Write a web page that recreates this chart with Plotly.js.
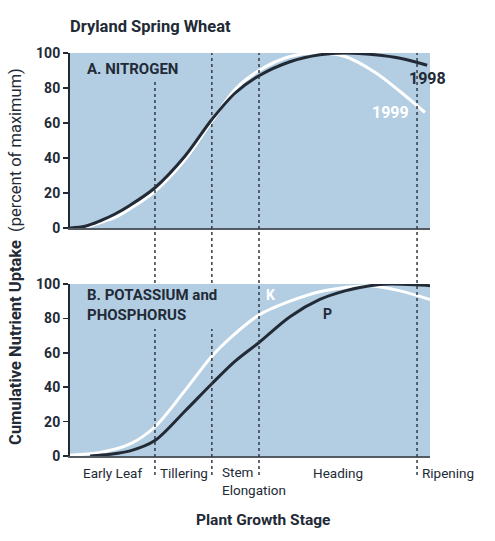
<!DOCTYPE html>
<html>
<head>
<meta charset="utf-8">
<script src="https://cdn.plot.ly/plotly-3.0.1.min.js"></script>
<style>
  html, body { margin: 0; padding: 0; background: #fff; }
  #chart { width: 495px; height: 541px; }
</style>
</head>
<body>
<div id="chart"></div>
<script>
// growth-stage position, 0-100 across the season
const n98X = [0, 4.2, 8.3, 12.5, 16.7, 23.6, 31.9, 39.4, 45.8, 52.5, 61.1, 69.4, 76.4, 84.7, 91.7, 99.2];
const n98Y = [0, 1, 4, 8, 13, 23, 41, 62, 77, 87, 95, 99, 100, 99, 97, 93];
const n99X = [0, 4.2, 8.3, 12.5, 16.7, 23.6, 31.9, 39.4, 45.8, 52.5, 61.1, 69.4, 76.4, 84.7, 91.7, 98.6];
const n99Y = [0, 0.5, 3, 6, 11, 21, 39, 61, 79, 90, 98, 100, 98, 89, 78, 66];

const kX = [0, 8.3, 16.7, 23.6, 31.9, 39.4, 45.8, 52.5, 61.1, 69.4, 76.4, 83.3, 91.7, 100];
const kY = [0.5, 2, 7, 17, 38, 58, 71, 82, 90, 95.5, 98, 99, 96, 91];
const pX = [5.6, 11.1, 16.7, 23.6, 31.9, 39.4, 45.8, 52.5, 61.1, 69.4, 76.4, 83.3, 88.9, 96.4, 100];
const pY = [0, 1, 3, 9, 26, 42, 55, 66, 81, 91, 96, 99, 100, 99.5, 99];

const stageLines = [23.6, 39.4, 52.5, 96.4];
const stageLabels = ["Early Leaf", "Tillering", "Stem<br>Elongation", "Heading", "Ripening"];
// label centres in paper units (Stem/Elongation is its left edge)
const stageLabelX = [0.119, 0.317, 0.417, 0.744, 1.05];

const ink = "#222a36";
const bg = "#b3cee3";
const font = "Roboto, 'Liberation Sans', sans-serif";

const line = (x, y, color, xa, ya) => ({
  type: "scatter", mode: "lines", x: x, y: y, xaxis: xa, yaxis: ya,
  line: { color: color, width: 3, shape: "spline", smoothing: 0.9 },
  hoverinfo: "skip", showlegend: false
});

const traces = [
  line(n99X, n99Y, "#ffffff", "x", "y"),
  line(n98X, n98Y, ink, "x", "y"),
  line(kX, kY, "#ffffff", "x2", "y2"),
  line(pX, pY, ink, "x2", "y2"),
];

const xBase = {
  range: [0, 100], showgrid: false, zeroline: false, showticklabels: false,
  ticks: "", showline: true, linecolor: "#555b63", linewidth: 2, fixedrange: true
};
const yBase = {
  range: [0, 100], tickvals: [0, 20, 40, 60, 80, 100], showgrid: false, zeroline: false,
  ticks: "outside", ticklen: 5, tickwidth: 1.5, tickcolor: ink,
  showline: true, linecolor: ink, linewidth: 2,
  tickfont: { family: font, size: 14, color: ink, weight: "bold" }, fixedrange: true
};

// px -> paper y (plot area spans px 53..456)
const py = px => (456 - px) / 403;

const shapes = [];
stageLines.forEach((x, i) => {
  const seg = (y0, y1) => shapes.push({
    type: "line", xref: "x", yref: "paper", x0: x, x1: x, y0: py(y0), y1: py(y1),
    line: { color: "#333a44", width: 1.5, dash: "dot" }, layer: "above"
  });
  if (i < 2) {
    seg(475, 329);
    seg(283, i === 0 ? 82 : 53);
  } else {
    seg(475, 53);
  }
});

const note = (text, x, yPx, size, color, extra) => Object.assign({
  text: text, xref: "paper", yref: "paper", x: x, y: py(yPx),
  xanchor: "center", yanchor: "middle", showarrow: false,
  font: { family: font, size: size, color: color }
}, extra || {});

const annotations = [
  note("<b>A. NITROGEN</b>", 0.042, 69, 15, ink, { xanchor: "left" }),
  note("<b>B. POTASSIUM and<br>PHOSPHORUS</b>", 0.042, 305, 15, ink, { xanchor: "left", align: "left" }),
  note("<b>1998</b>", 0.994, 78, 16, ink),
  note("<b>1999</b>", 0.889, 113, 16, "#ffffff"),
  note("<b>K</b>", 0.556, 295, 14, "#ffffff"),
  note("<b>P</b>", 0.714, 314, 14, ink),
  note("<b>Cumulative Nutrient Uptake</b>  (percent of maximum)", -0.153, 256, 16.5, ink, { textangle: -90 }),
  note("<b>Plant Growth Stage</b>", 0.536, 520, 15.5, ink),
];
stageLabels.forEach((t, i) => {
  const isStem = i === 2;
  annotations.push(note(t, stageLabelX[i], isStem ? 481 : 473, 13.5, ink,
    isStem ? { xanchor: "left", align: "left" } : {}));
});

const layout = {
  width: 495, height: 541,
  margin: { l: 70, r: 65, t: 53, b: 85 },
  paper_bgcolor: "#ffffff",
  plot_bgcolor: bg,
  title: {
    text: "<b>Dryland Spring Wheat</b>", xref: "paper", x: 0, xanchor: "left",
    yref: "container", y: 1 - 26 / 541, yanchor: "middle",
    font: { family: font, size: 16.5, color: ink }
  },
  xaxis: Object.assign({}, xBase, { anchor: "y", domain: [0, 1] }),
  yaxis: Object.assign({}, yBase, { domain: [py(228), 1] }),
  xaxis2: Object.assign({}, xBase, { anchor: "y2", domain: [0, 1] }),
  yaxis2: Object.assign({}, yBase, { domain: [0, py(284)] }),
  shapes: shapes,
  annotations: annotations,
  showlegend: false
};

Plotly.newPlot("chart", traces, layout, { displayModeBar: false, staticPlot: true });
</script>
</body>
</html>
